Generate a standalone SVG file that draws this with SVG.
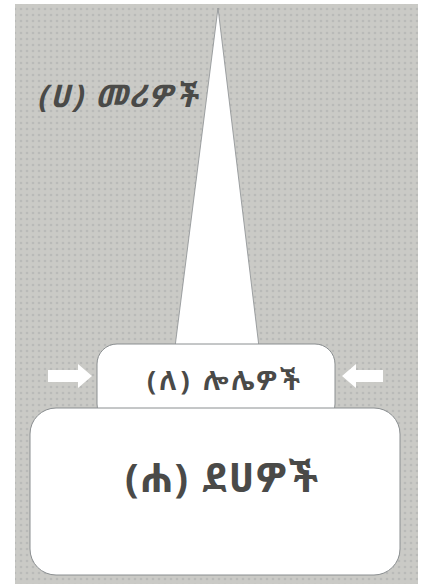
<svg xmlns="http://www.w3.org/2000/svg" width="429" height="584" viewBox="0 0 429 584">
<style>
.lbl{font-family:"Noto Sans Ethiopic","Abyssinica SIL","Noto Sans","DejaVu Sans",sans-serif;fill:#4a4a48;font-weight:bold}
.box{fill:#ffffff;stroke:#8a8e90;stroke-width:1}
.arr{fill:#ffffff}
</style>
<defs>
<pattern id="dots" width="6" height="6" patternUnits="userSpaceOnUse">
<rect width="6" height="6" fill="#cacac6"/>
<circle cx="3" cy="3" r="1.3" fill="#b9bab8"/>
</pattern>
</defs>
<rect width="429" height="584" fill="#ffffff"/>
<rect x="15" y="4" width="403" height="580" fill="url(#dots)"/>
<g id="leaders">
<polygon points="218,8 175,347 259,347" fill="#ffffff" stroke="#8a8e90" stroke-width="0.8"/>
<text class="lbl" x="37" y="107" font-size="31" font-style="italic" textLength="160" lengthAdjust="spacing">(ሀ) መሪዎች</text>
</g>
<g id="servants">
<rect class="box" x="97" y="344" width="238" height="80" rx="20"/>
<text class="lbl" x="147" y="390" font-size="27" textLength="153" lengthAdjust="spacing">(ለ) ሎሌዎች</text>
</g>
<g id="poor">
<rect class="box" x="30" y="408" width="370" height="167" rx="26"/>
<text class="lbl" x="125" y="492" font-size="40" textLength="193" lengthAdjust="spacing">(ሐ) ደሀዎች</text>
</g>
<g id="connectors">
<polygon class="arr" points="48,370 78,370 78,364 92,376 78,388 78,382 48,382"/>
<polygon class="arr" points="383,370 356,370 356,364 342,376 356,388 356,382 383,382"/>
</g>
</svg>
